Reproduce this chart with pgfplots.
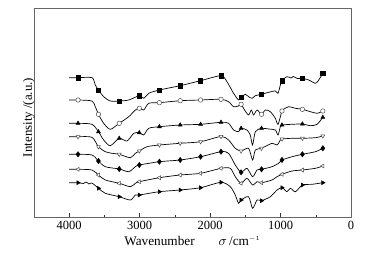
\documentclass[border=0pt]{standalone}
\usepackage{fontspec}
\setmainfont{Liberation Serif}
\usepackage{pgfplots}
\pgfplotsset{compat=1.18}
\begin{document}
\begin{tikzpicture}
\begin{axis}[
  scale only axis=true,
  width=253.6pt, height=167.2pt,
  x dir=reverse,
  xmin=0, xmax=4500,
  ymin=0, ymax=209,
  xtick={0,1000,2000,3000,4000},
  minor xtick={500,1500,2500,3500},
  xtick pos=bottom,
  tick align=inside,
  major tick length=3pt,
  minor tick length=1.8pt,
  ytick=\empty,
  axis line style={black!60},
  every tick/.style={black!80},
  /pgf/number format/assume math mode=true,
  /pgf/number format/set thousands separator={},
  tick label style={font=\fontsize{10}{12}\selectfont},
  xlabel style={font=\fontsize{10.6}{12}\selectfont, yshift=2pt},
  ylabel style={font=\fontsize{10.3}{12}\selectfont, yshift=-4pt, xshift=-4pt},
  xlabel={Wavenumber\hspace{1.8em}$\sigma$\,/cm$^{\scriptscriptstyle -1}$},
  ylabel={Intensity /(a.u.)},
  clip=false,
  line/.style={black, line width=0.55pt, smooth, tension=0.45},
  mk/.style={only marks, mark size=1.8pt, black, mark options={line width=0.4pt}},
]
% ---- curve 1: filled squares
\addplot[line] table {
4000 139.3
3875 139.3
3677 139.3
3630 132
3585 127
3511 120.3
3417 116
3290 116
3155 117
3005 121.3
2942 118.7
2871 123.7
2720 127
2425 131.3
2135 136.3
1845 141.3
1761 135.3
1667 123.7
1596 117
1560 119.7
1501 122.7
1454 120.3
1405 118.7
1358 121.3
1270 122.7
1169 124.7
1074 126
1036 123.7
1003 132
980 136.3
908 140.3
850 139
820 140.5
760 138.5
690 138.7
600 137
505 133.7
458 137
400 143.7
};
\addplot[mk, mark=square*, mark size=1.7pt] table {
3875 139.3
3585 127
3290 116
3005 121.3
2720 127
2425 131.3
2135 136.3
1845 141.3
1560 119.7
1270 122.7
980 136.3
690 138.7
400 143.7
};
% ---- curve 2: open circles
\addplot[line] table {
4000 117
3875 117
3677 116
3630 110.3
3585 102.7
3511 93.7
3417 87.7
3290 93.7
3155 100.3
3061 107
3005 108.7
2942 107
2871 113.7
2720 114.3
2425 116.3
2135 117
1845 117.7
1738 115.3
1667 110.3
1600 111
1560 112.7
1511 107
1454 102
1415 107
1383 102
1334 107
1270 102.7
1216 107
1145 105.3
1074 98.7
1036 92.7
980 106
956 107.7
885 110.3
789 108.7
690 107.7
576 105.3
481 103.7
400 106
};
\addplot[mk, mark=*, mark options={fill=white, draw=black!70}] table {
3875 117
3585 102.7
3290 93.7
3005 108.7
2720 114.3
2425 116.3
2135 117
1845 117.7
1560 112.7
1270 102.7
980 106
690 107.7
400 106
};
% ---- curve 3: filled up triangles
\addplot[line] table {
4000 93.7
3875 93.7
3677 92.7
3585 85.3
3511 77
3417 71.3
3290 78.7
3179 76
3084 83.7
3005 84.3
2942 82
2871 88.7
2720 90.3
2425 92
2135 92.7
1845 94.7
1738 93.7
1667 87
1596 85.3
1560 88.7
1477 87
1430 82
1397 72
1358 85.3
1270 88.7
1169 88
1074 87
1036 82
1003 90.3
980 92
836 92.7
690 93
576 91.3
481 92.7
400 99.7
};
\addplot[mk, mark=triangle*] table {
3875 93.7
3585 85.3
3290 78.7
3005 84.3
2720 90.3
2425 92
2135 92.7
1845 94.7
1560 88.7
1270 88.7
980 92
690 93
400 99.7
};
% ---- curve 4: open down triangles
\addplot[line] table {
4000 80.3
3875 80.3
3677 79.7
3585 70.3
3488 65.3
3393 63.7
3290 62.7
3132 59.3
3061 63.7
3005 66
2895 70.3
2720 72
2425 73.7
2135 75.3
1845 80.5
1738 77
1643 68.7
1560 66
1454 68.7
1397 57
1358 67
1270 68.7
1121 73.7
1050 72
1003 77
980 78
836 78.7
690 78.7
505 79.3
400 81
};
\addplot[mk, mark=triangle*, mark options={rotate=180, fill=white, draw=black!70}] table {
3875 80.3
3585 70.3
3290 62.7
3005 66
2720 72
2425 73.7
2135 75.3
1845 80.5
1560 66
1270 68.7
980 78
690 78.7
400 81
};
% ---- curve 5: filled diamonds
\addplot[line] table {
4000 62.7
3875 62.7
3677 62
3585 56
3488 50.3
3290 48
3155 45.3
3061 50.3
3005 52
2720 55.3
2425 57
2135 60.3
1845 65.3
1738 63.7
1643 52
1560 44.7
1477 48.7
1397 40.3
1334 47
1270 47.7
1121 50.3
1027 53.7
980 57
836 60.3
690 62.7
505 65.3
400 68.7
};
\addplot[mk, mark=diamond*, mark size=2.1pt] table {
3875 62.7
3585 56
3290 48
3005 52
2720 55.3
2425 57
2135 60.3
1845 65.3
1560 44.7
1270 47.7
980 57
690 62.7
400 68.7
};
% ---- curve 6: open left triangles
\addplot[line] table {
4000 47.7
3875 47.7
3677 47
3585 42
3488 37
3290 33.7
3132 30.3
3061 33.7
3005 35.3
2720 39.3
2425 42
2135 43.7
1845 48.7
1714 48.7
1643 40.3
1560 33.7
1477 38.7
1397 32
1334 35.3
1270 34.3
1121 37
1050 40.3
980 42.7
836 46
690 47
505 48.7
400 51
};
\addplot[mk, mark=triangle*, mark options={rotate=90, fill=white, draw=black!70}] table {
3875 47.7
3585 42
3290 33.7
3005 35.3
2720 39.3
2425 42
2135 43.7
1845 48.7
1560 33.7
1270 34.3
980 42.7
690 47
400 51
};
% ---- curve 7: filled right triangles
\addplot[line] table {
4000 34.3
3875 34.3
3800 33.5
3760 35
3720 33
3677 34
3585 28.7
3488 23.7
3290 20.3
3132 17
3061 22
3005 22
2720 25.3
2425 27
2135 29.3
1845 34.7
1714 30.3
1643 22
1596 13.7
1560 17
1454 20.3
1397 8.7
1334 17
1270 16.3
1145 20.3
1050 27
980 29.3
908 25.3
861 28.7
789 25.3
690 32
552 32.7
400 34.3
};
\addplot[mk, mark=triangle*, mark options={rotate=-90}] table {
3875 34.3
3585 28.7
3290 20.3
3005 22
2720 25.3
2425 27
2135 29.3
1845 34.7
1560 17
1270 16.3
980 29.3
690 32
400 34.3
};
\end{axis}
\path ([shift={(-27.2pt,-32pt)}]current axis.south west) rectangle ([shift={(20pt,6.4pt)}]current axis.north east);
\end{tikzpicture}
\end{document}
